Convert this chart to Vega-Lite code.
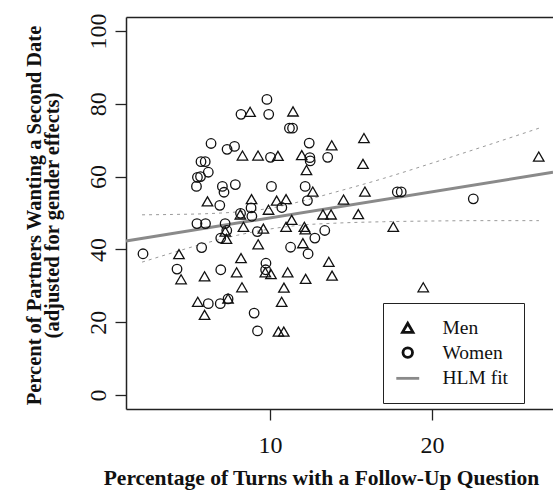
{
  "$schema": "https://vega.github.io/schema/vega-lite/v6.json",
  "width": 427,
  "height": 392,
  "autosize": "none",
  "padding": {"left": 126, "top": 17, "right": 0, "bottom": 90},
  "background": "white",
  "config": {"view": {"stroke": null}, "font": "Liberation Serif"},
  "datasets": {
    "pts": [
      {"x": 8.77, "y": 77.8, "sex": "Men"}, {"x": 11.42, "y": 77.9, "sex": "Men"}, {"x": 8.30, "y": 65.8, "sex": "Men"},
      {"x": 9.26, "y": 65.8, "sex": "Men"}, {"x": 10.49, "y": 65.7, "sex": "Men"}, {"x": 11.96, "y": 65.9, "sex": "Men"},
      {"x": 12.25, "y": 61.8, "sex": "Men"}, {"x": 13.81, "y": 68.6, "sex": "Men"}, {"x": 15.80, "y": 70.6, "sex": "Men"},
      {"x": 15.74, "y": 63.5, "sex": "Men"}, {"x": 26.59, "y": 65.5, "sex": "Men"}, {"x": 12.64, "y": 55.9, "sex": "Men"},
      {"x": 6.14, "y": 53.2, "sex": "Men"}, {"x": 8.86, "y": 53.8, "sex": "Men"}, {"x": 10.41, "y": 53.4, "sex": "Men"},
      {"x": 10.99, "y": 53.8, "sex": "Men"}, {"x": 9.91, "y": 50.9, "sex": "Men"}, {"x": 14.54, "y": 53.7, "sex": "Men"},
      {"x": 15.86, "y": 55.9, "sex": "Men"}, {"x": 15.45, "y": 49.7, "sex": "Men"}, {"x": 8.17, "y": 49.6, "sex": "Men"},
      {"x": 13.27, "y": 49.6, "sex": "Men"}, {"x": 13.77, "y": 49.6, "sex": "Men"}, {"x": 17.61, "y": 46.2, "sex": "Men"},
      {"x": 8.36, "y": 46.2, "sex": "Men"}, {"x": 9.59, "y": 45.7, "sex": "Men"}, {"x": 10.99, "y": 46.2, "sex": "Men"},
      {"x": 11.34, "y": 48.1, "sex": "Men"}, {"x": 12.12, "y": 46.2, "sex": "Men"}, {"x": 12.18, "y": 45.5, "sex": "Men"},
      {"x": 7.24, "y": 44.9, "sex": "Men"}, {"x": 7.31, "y": 42.9, "sex": "Men"}, {"x": 9.27, "y": 41.4, "sex": "Men"},
      {"x": 12.03, "y": 41.7, "sex": "Men"}, {"x": 4.38, "y": 38.7, "sex": "Men"}, {"x": 8.21, "y": 37.6, "sex": "Men"},
      {"x": 9.71, "y": 33.7, "sex": "Men"}, {"x": 10.06, "y": 33.2, "sex": "Men"}, {"x": 11.09, "y": 33.7, "sex": "Men"},
      {"x": 12.20, "y": 31.9, "sex": "Men"}, {"x": 13.63, "y": 36.6, "sex": "Men"}, {"x": 13.83, "y": 32.8, "sex": "Men"},
      {"x": 4.51, "y": 31.8, "sex": "Men"}, {"x": 5.96, "y": 32.6, "sex": "Men"}, {"x": 7.94, "y": 33.7, "sex": "Men"},
      {"x": 8.27, "y": 29.6, "sex": "Men"}, {"x": 10.86, "y": 29.5, "sex": "Men"}, {"x": 10.72, "y": 25.6, "sex": "Men"},
      {"x": 5.54, "y": 25.6, "sex": "Men"}, {"x": 7.41, "y": 26.5, "sex": "Men"}, {"x": 5.96, "y": 22.0, "sex": "Men"},
      {"x": 10.52, "y": 17.4, "sex": "Men"}, {"x": 10.85, "y": 17.4, "sex": "Men"}, {"x": 19.46, "y": 29.6, "sex": "Men"},
      {"x": 9.81, "y": 81.2, "sex": "Women"}, {"x": 8.21, "y": 77.1, "sex": "Women"}, {"x": 9.92, "y": 77.1, "sex": "Women"},
      {"x": 11.20, "y": 73.3, "sex": "Women"}, {"x": 11.39, "y": 73.3, "sex": "Women"}, {"x": 6.36, "y": 69.1, "sex": "Women"},
      {"x": 7.35, "y": 67.5, "sex": "Women"}, {"x": 7.81, "y": 68.3, "sex": "Women"}, {"x": 12.42, "y": 69.2, "sex": "Women"},
      {"x": 10.03, "y": 65.3, "sex": "Women"}, {"x": 12.46, "y": 65.2, "sex": "Women"}, {"x": 12.48, "y": 64.3, "sex": "Women"},
      {"x": 13.56, "y": 65.3, "sex": "Women"}, {"x": 5.74, "y": 64.1, "sex": "Women"}, {"x": 6.00, "y": 64.1, "sex": "Women"},
      {"x": 6.19, "y": 61.2, "sex": "Women"}, {"x": 5.52, "y": 59.8, "sex": "Women"}, {"x": 5.71, "y": 60.0, "sex": "Women"},
      {"x": 5.46, "y": 57.3, "sex": "Women"}, {"x": 7.06, "y": 57.3, "sex": "Women"}, {"x": 7.16, "y": 55.7, "sex": "Women"},
      {"x": 7.86, "y": 57.8, "sex": "Women"}, {"x": 10.09, "y": 57.3, "sex": "Women"}, {"x": 12.17, "y": 57.3, "sex": "Women"},
      {"x": 12.31, "y": 53.4, "sex": "Women"}, {"x": 6.90, "y": 52.1, "sex": "Women"}, {"x": 8.83, "y": 51.4, "sex": "Women"},
      {"x": 10.73, "y": 51.5, "sex": "Women"}, {"x": 8.88, "y": 49.1, "sex": "Women"}, {"x": 17.86, "y": 55.8, "sex": "Women"},
      {"x": 18.10, "y": 55.8, "sex": "Women"}, {"x": 22.55, "y": 53.9, "sex": "Women"}, {"x": 8.18, "y": 49.9, "sex": "Women"},
      {"x": 5.49, "y": 47.1, "sex": "Women"}, {"x": 6.02, "y": 47.1, "sex": "Women"}, {"x": 7.23, "y": 47.1, "sex": "Women"},
      {"x": 7.33, "y": 45.2, "sex": "Women"}, {"x": 6.96, "y": 43.1, "sex": "Women"}, {"x": 9.22, "y": 44.9, "sex": "Women"},
      {"x": 12.77, "y": 43.1, "sex": "Women"}, {"x": 13.38, "y": 45.2, "sex": "Women"}, {"x": 11.27, "y": 40.6, "sex": "Women"},
      {"x": 12.35, "y": 38.8, "sex": "Women"}, {"x": 2.16, "y": 38.8, "sex": "Women"}, {"x": 5.78, "y": 40.5, "sex": "Women"},
      {"x": 9.75, "y": 36.2, "sex": "Women"}, {"x": 9.73, "y": 34.4, "sex": "Women"}, {"x": 4.26, "y": 34.6, "sex": "Women"},
      {"x": 6.96, "y": 34.4, "sex": "Women"}, {"x": 6.19, "y": 25.1, "sex": "Women"}, {"x": 6.93, "y": 25.1, "sex": "Women"},
      {"x": 7.41, "y": 26.4, "sex": "Women"}, {"x": 9.02, "y": 22.5, "sex": "Women"}, {"x": 9.23, "y": 17.6, "sex": "Women"}
    ],
    "band": [
      {"x": 2.1, "y": 49.5, "b": "upper"}, {"x": 4, "y": 49.6, "b": "upper"}, {"x": 6, "y": 49.8, "b": "upper"},
      {"x": 8, "y": 50.3, "b": "upper"}, {"x": 10, "y": 51.3, "b": "upper"}, {"x": 12, "y": 53.3, "b": "upper"},
      {"x": 14, "y": 55.7, "b": "upper"}, {"x": 17, "y": 59.5, "b": "upper"}, {"x": 20, "y": 63.7, "b": "upper"},
      {"x": 23, "y": 68.0, "b": "upper"}, {"x": 26.6, "y": 73.3, "b": "upper"},
      {"x": 2.1, "y": 36.5, "b": "lower"}, {"x": 4, "y": 39.1, "b": "lower"}, {"x": 6, "y": 41.7, "b": "lower"},
      {"x": 8, "y": 43.9, "b": "lower"}, {"x": 10, "y": 45.6, "b": "lower"}, {"x": 12, "y": 46.7, "b": "lower"},
      {"x": 14, "y": 47.2, "b": "lower"}, {"x": 17, "y": 47.6, "b": "lower"}, {"x": 20, "y": 47.8, "b": "lower"},
      {"x": 23, "y": 47.9, "b": "lower"}, {"x": 26.6, "y": 47.9, "b": "lower"}
    ],
    "fit": [
      {"x": 1.11, "y": 42.3}, {"x": 27.47, "y": 61.2}
    ]
  },
  "encoding": {
    "y": {
      "field": "y", "type": "quantitative",
      "scale": {"domain": [-3.85, 103.85], "nice": false, "zero": false},
      "axis": {
        "values": [0, 20, 40, 60, 80, 100], "grid": false,
        "domain": true, "domainColor": "#222", "domainWidth": 1.5,
        "ticks": true, "tickSize": 11, "tickColor": "#222", "tickWidth": 1.3,
        "labelFont": "Liberation Serif", "labelFontSize": 24, "labelColor": "#111",
        "labelAngle": -90, "labelAlign": "center", "labelBaseline": "alphabetic", "labelPadding": 9.5,
        "title": ["Percent of Partners Wanting a Second Date", "(adjusted for gender effects)"],
        "titleFont": "Liberation Serif", "titleFontSize": 20.5, "titleFontWeight": "bold", "titleColor": "#111",
        "titleAngle": -90, "titleAlign": "center", "titleBaseline": "alphabetic",
        "titleX": -86, "titleY": 198, "titleLineHeight": 18.5
      }
    }
  },
  "layer": [
    {
      "data": {"name": "band"},
      "mark": {"type": "line", "color": "#9a9a9a", "strokeWidth": 1, "strokeDash": [3, 4], "interpolate": "monotone"},
      "encoding": {
        "x": {"field": "x", "type": "quantitative", "scale": {"domain": [1.11, 27.47], "nice": false, "zero": false}, "axis": null},
        "detail": {"field": "b"}
      }
    },
    {
      "data": {"name": "fit"},
      "mark": {"type": "line", "color": "#8a8a8a", "strokeWidth": 3},
      "encoding": {
        "x": {"field": "x", "type": "quantitative", "scale": {"domain": [1.11, 27.47], "nice": false, "zero": false},
          "axis": {"orient": "top", "labels": false, "ticks": false, "grid": false, "title": null,
            "domain": true, "domainColor": "#222", "domainWidth": 1.5}}
      }
    },
    {
      "data": {"name": "pts"},
      "mark": {"type": "point", "filled": false, "strokeWidth": 1.3, "opacity": 1},
      "encoding": {
        "x": {"field": "x", "type": "quantitative", "scale": {"domain": [1.11, 27.47], "nice": false, "zero": false},
          "axis": {
            "values": [10, 20], "grid": false,
            "domain": true, "domainColor": "#222", "domainWidth": 1.5,
            "tickSize": 11, "tickColor": "#222", "tickWidth": 1.3,
            "labelFont": "Liberation Serif", "labelFontSize": 24, "labelColor": "#111",
            "labelBaseline": "alphabetic", "labelPadding": 32.5,
            "title": "Percentage of Turns with a Follow-Up Question",
            "titleFont": "Liberation Serif", "titleFontSize": 21.5, "titleFontWeight": "bold", "titleColor": "#111",
            "titleAlign": "center", "titleBaseline": "alphabetic", "titleX": 195, "titleY": 75
          }},
        "shape": {
          "field": "sex", "type": "nominal",
          "scale": {"domain": ["Men", "Women", "HLM fit"], "range": ["triangle-up", "circle", "M-2.7,0H2.7"]},
          "legend": {
            "orient": "none", "legendX": 257, "legendY": 286, "title": null,
            "fillColor": "white", "strokeColor": "#222", "padding": 15,
            "symbolSize": 196, "symbolStrokeWidth": 2.8,
            "labelFont": "Liberation Serif", "labelFontSize": 19.5, "labelColor": "#111",
            "labelOffset": 25, "rowPadding": 3.8,
            "encode": {"symbols": {"update": {"size": {"signal": "datum.value === 'Women' ? 81 : 196"}}}}
          }
        },
        "color": {
          "field": "sex", "type": "nominal",
          "scale": {"domain": ["Men", "Women", "HLM fit"], "range": ["#111111", "#111111", "#8a8a8a"]},
          "legend": {
            "orient": "none", "legendX": 257, "legendY": 286, "title": null,
            "fillColor": "white", "strokeColor": "#222", "padding": 15,
            "symbolSize": 196, "symbolStrokeWidth": 2.8,
            "labelFont": "Liberation Serif", "labelFontSize": 19.5, "labelColor": "#111",
            "labelOffset": 25, "rowPadding": 3.8,
            "encode": {"symbols": {"update": {"size": {"signal": "datum.value === 'Women' ? 81 : 196"}}}}
          }
        },
        "size": {
          "field": "sex", "type": "ordinal",
          "scale": {"domain": ["Men", "Women", "HLM fit"], "range": [110, 72, 196]},
          "legend": null
        }
      }
    }
  ],
  "resolve": {"axis": {"x": "independent"}}
}
